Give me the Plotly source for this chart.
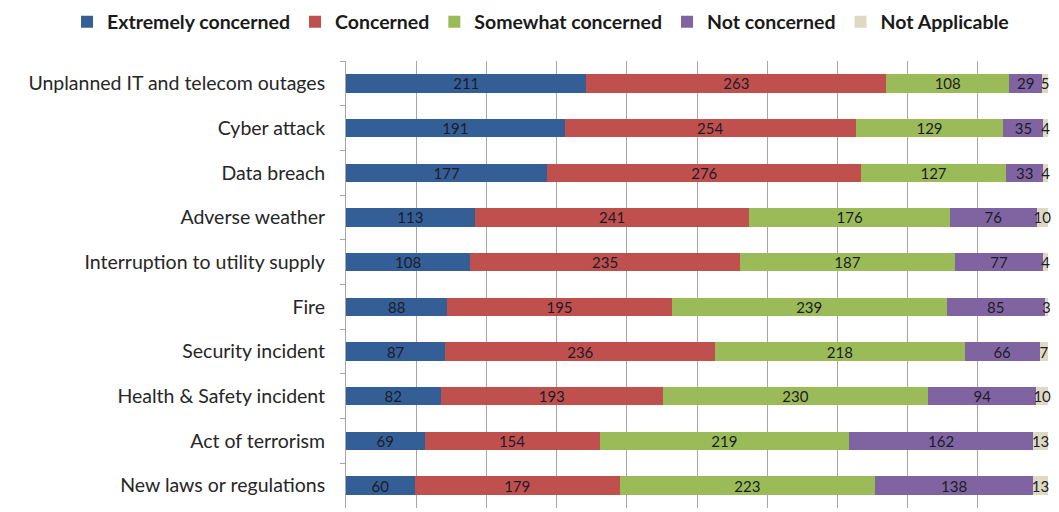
import plotly.graph_objects as go

categories = [
    "Unplanned IT and telecom outages",
    "Cyber attack",
    "Data breach",
    "Adverse weather",
    "Interruption to utility supply",
    "Fire",
    "Security incident",
    "Health & Safety incident",
    "Act of terrorism",
    "New laws or regulations",
]
series_names = ["Extremely concerned", "Concerned", "Somewhat concerned",
                "Not concerned", "Not Applicable"]
extremely = [211, 191, 177, 113, 108, 88, 87, 82, 69, 60]
concerned = [263, 254, 276, 241, 235, 195, 236, 193, 154, 179]
somewhat = [108, 129, 127, 176, 187, 239, 218, 230, 219, 223]
not_concerned = [29, 35, 33, 76, 77, 85, 66, 94, 162, 138]
not_applicable = [5, 4, 4, 10, 4, 3, 7, 10, 13, 13]
colors = ["#335F96", "#C0504D", "#9BBB59", "#8064A2", "#DDD9C3"]

fig = go.Figure()
for name, vals, col in zip(series_names,
                           [extremely, concerned, somewhat, not_concerned, not_applicable],
                           colors):
    fig.add_trace(go.Bar(
        name=name, y=categories, x=vals, orientation="h",
        marker=dict(color=col, line=dict(width=0)),
        text=[str(v) for v in vals], textposition="inside", textangle=0,
        insidetextanchor="middle", constraintext="none", cliponaxis=False,
        textfont=dict(family="Lato", size=15, color="#1c1c28"),
        hoverinfo="x+y+name",
    ))

# page body has an 8px default margin, so the figure is drawn 8px smaller
fig.update_layout(
    width=1051, height=504,
    barmode="stack", barnorm="percent", bargap=0.59,
    plot_bgcolor="white", paper_bgcolor="white",
    margin=dict(l=338, r=11, t=53, b=4, autoexpand=False),
    font=dict(family="Lato", color="#262626"),
    legend=dict(orientation="h", x=-0.3974, xanchor="left", y=1.0872, yanchor="middle",
                font=dict(family="Lato", size=19.5, color="#1a1a1a", weight="bold"),
                itemwidth=30, traceorder="normal"),
    showlegend=True,
)
fig.update_xaxes(range=[0, 100], dtick=10, showgrid=True, gridcolor="#A6A6A6",
                 gridwidth=1, showticklabels=False, zeroline=False,
                 showline=False, fixedrange=True)
fig.update_yaxes(categoryorder="array", categoryarray=categories,
                 autorange="reversed", showline=True, linecolor="#A6A6A6",
                 ticks="outside", tickson="boundaries", ticklen=5,
                 tickcolor="#A6A6A6", showgrid=False, ticklabelstandoff=16,
                 tickfont=dict(family="Lato", size=19.5, color="#262626"))

fig.write_html("out.html")
